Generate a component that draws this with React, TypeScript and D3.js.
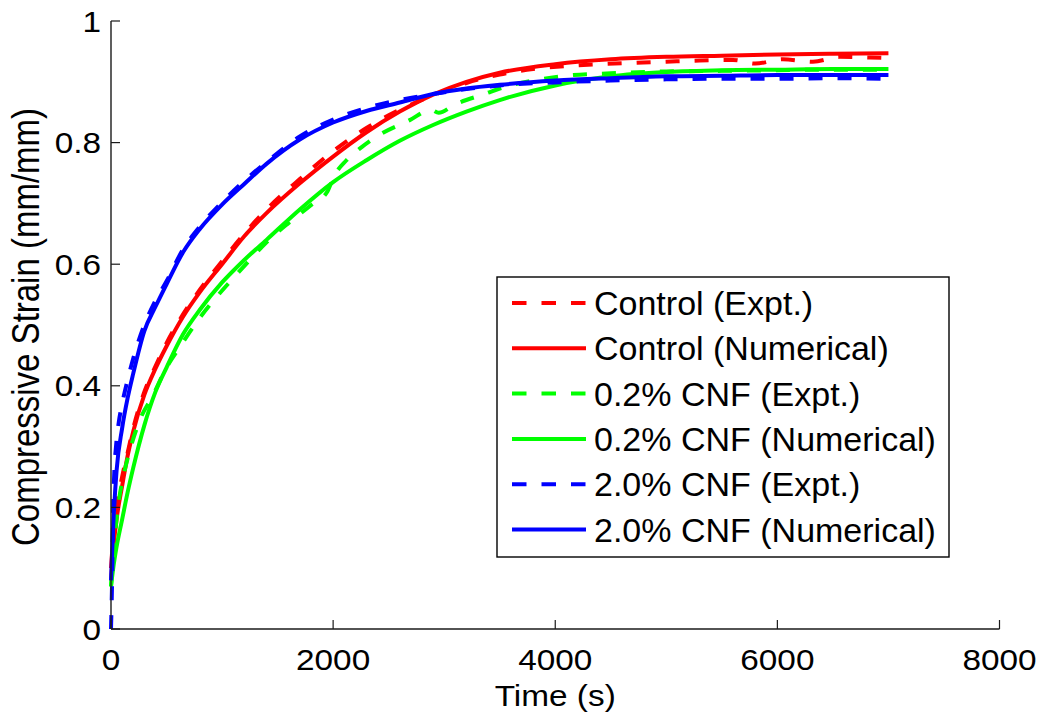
import React from "react";
import * as d3 from "d3";

// Creep strain under compression: experiments vs. numerical model
const xTicks = [0, 2000, 4000, 6000, 8000];
const yTicks = [0, 0.2, 0.4, 0.6, 0.8, 1];
const yTickLabels = ["0", "0.2", "0.4", "0.6", "0.8", "1"];

// Time grid shared by the numerical solutions (s)
const tModel = [0, 20, 50, 100, 150, 200, 300, 400, 500, 650, 800, 1000, 1200, 1400, 1700, 2000, 2300, 2600, 2900, 3200, 3500, 4000, 4500, 5000, 5500, 6000, 6500, 7000];
const controlModel = [0.08, 0.13, 0.18, 0.235, 0.285, 0.325, 0.385, 0.428, 0.465, 0.514, 0.554, 0.6, 0.646, 0.684, 0.733, 0.777, 0.817, 0.851, 0.879, 0.9, 0.915, 0.929, 0.937, 0.941, 0.943, 0.945, 0.946, 0.947];
const cnf02Model = [0.07, 0.1, 0.135, 0.18, 0.225, 0.265, 0.335, 0.39, 0.43, 0.485, 0.525, 0.57, 0.607, 0.64, 0.69, 0.735, 0.771, 0.803, 0.829, 0.851, 0.87, 0.894, 0.909, 0.916, 0.919, 0.92, 0.921, 0.921];
const cnf20Model = [0.08, 0.17, 0.26, 0.33, 0.38, 0.42, 0.49, 0.53, 0.567, 0.62, 0.658, 0.698, 0.732, 0.765, 0.805, 0.833, 0.852, 0.866, 0.88, 0.889, 0.895, 0.902, 0.906, 0.909, 0.91, 0.911, 0.911, 0.911];

// Experimental records
const tControlExpt = [0, 20, 50, 100, 150, 200, 300, 400, 500, 650, 800, 1000, 1200, 1400, 1700, 2000, 2300, 2600, 2900, 3200, 3500, 3800, 4100, 4400, 4700, 5000, 5300, 5600, 5800, 6050, 6320, 6560, 6830, 7000];
const controlExpt = [0.1, 0.15, 0.2, 0.25, 0.29, 0.33, 0.39, 0.432, 0.47, 0.518, 0.558, 0.605, 0.65, 0.69, 0.74, 0.786, 0.824, 0.854, 0.878, 0.898, 0.912, 0.921, 0.926, 0.929, 0.931, 0.933, 0.935, 0.936, 0.93, 0.937, 0.933, 0.941, 0.94, 0.939];

const tCnf02Expt = [0, 20, 50, 70, 110, 170, 260, 380, 500, 620, 800, 1100, 1250, 1400, 1600, 1800, 1950, 2000, 2120, 2260, 2420, 2690, 2880, 2950, 3100, 3380, 3500, 3800, 4100, 4500, 5000, 5500, 6000, 6500, 7000];
const cnf02Expt = [0.07, 0.12, 0.18, 0.21, 0.25, 0.294, 0.344, 0.385, 0.43, 0.464, 0.512, 0.577, 0.607, 0.636, 0.668, 0.697, 0.72, 0.742, 0.771, 0.793, 0.813, 0.837, 0.854, 0.849, 0.863, 0.881, 0.889, 0.902, 0.91, 0.914, 0.917, 0.918, 0.919, 0.92, 0.92];

const tCnf20Expt = [0, 10, 20, 30, 45, 70, 100, 150, 200, 300, 400, 500, 650, 800, 1000, 1200, 1400, 1700, 2000, 2300, 2600, 2900, 3200, 3500, 4000, 4500, 5000, 5500, 6000, 6500, 7000];
const cnf20Expt = [0, 0.08, 0.2, 0.26, 0.3, 0.34, 0.37, 0.41, 0.445, 0.5, 0.54, 0.572, 0.625, 0.662, 0.702, 0.737, 0.768, 0.81, 0.838, 0.857, 0.87, 0.88, 0.888, 0.894, 0.899, 0.902, 0.904, 0.905, 0.905, 0.906, 0.905];

const seriesNames = [
  "Control (Expt.)",
  "Control (Numerical)",
  "0.2% CNF (Expt.)",
  "0.2% CNF (Numerical)",
  "2.0% CNF (Expt.)",
  "2.0% CNF (Numerical)",
];

const RED = "#ff0000";
const GREEN = "#00ff00";
const BLUE = "#0000ff";

const series = [
  { name: seriesNames[0], t: tControlExpt, v: controlExpt, color: RED, dashed: true },
  { name: seriesNames[1], t: tModel, v: controlModel, color: RED, dashed: false },
  { name: seriesNames[2], t: tCnf02Expt, v: cnf02Expt, color: GREEN, dashed: true },
  { name: seriesNames[3], t: tModel, v: cnf02Model, color: GREEN, dashed: false },
  { name: seriesNames[4], t: tCnf20Expt, v: cnf20Expt, color: BLUE, dashed: true },
  { name: seriesNames[5], t: tModel, v: cnf20Model, color: BLUE, dashed: false },
];

const left = 111;
const right = 999.5;
const top = 21;
const bottom = 629;

const x = d3.scaleLinear().domain([0, 8000]).range([left, right]);
const y = d3.scaleLinear().domain([0, 1]).range([bottom, top]);

const line = d3
  .line<[number, number]>()
  .x((d) => x(d[0]))
  .y((d) => y(d[1]))
  .curve(d3.curveMonotoneX);

const FONT = "'Liberation Sans', Arial, Helvetica, sans-serif";
const DASH = "14,15";

export default function App() {
  const legend = { x0: 497, y0: 277, x1: 949, y1: 557, firstRow: 303, rowStep: 45.3 };
  return (
    <svg
      width={1042}
      height={715}
      style={{ position: "absolute", left: 0, top: 0, background: "#fff" }}
      fontFamily={FONT}
    >
      <rect x={0} y={0} width={1042} height={715} fill="#fff" />

      {/* data */}
      {series.map((s) => (
        <path
          key={s.name}
          d={line(s.t.map((t, i) => [t, s.v[i]] as [number, number])) || ""}
          fill="none"
          stroke={s.color}
          strokeWidth={4}
          strokeDasharray={s.dashed ? DASH : undefined}
          strokeLinejoin="round"
        />
      ))}

      {/* axes */}
      <line x1={left} x2={left} y1={top} y2={bottom} stroke="#1a1a1a" strokeWidth={1.4} />
      <line x1={left} x2={right} y1={bottom} y2={bottom} stroke="#1a1a1a" strokeWidth={1.4} />
      {yTicks.map((v, i) => (
        <g key={"y" + v}>
          <line x1={left} x2={left + 9} y1={y(v)} y2={y(v)} stroke="#1a1a1a" strokeWidth={1.2} />
          <text
            transform={`translate(${left - 10},${y(v) + 10.5}) scale(1.15,1)`}
            textAnchor="end"
            fontSize={29}
            fill="#000"
          >
            {yTickLabels[i]}
          </text>
        </g>
      ))}
      {xTicks.map((v) => (
        <g key={"x" + v}>
          <line x1={x(v)} x2={x(v)} y1={bottom} y2={bottom - 9} stroke="#1a1a1a" strokeWidth={1.2} />
          <text
            transform={`translate(${x(v)},${670}) scale(1.15,1)`}
            textAnchor="middle"
            fontSize={29}
            fill="#000"
          >
            {v}
          </text>
        </g>
      ))}
      <text
        transform={`translate(${(left + right) / 2},706) scale(1.15,1)`}
        textAnchor="middle"
        fontSize={29}
        fill="#000"
      >
        Time (s)
      </text>
      <text
        transform={`translate(39,${(top + bottom) / 2 + 2}) scale(1.15,1) rotate(-90)`}
        textAnchor="middle"
        fontSize={33}
        fill="#000"
      >
        Compressive Strain (mm/mm)
      </text>

      {/* legend */}
      <rect
        x={legend.x0}
        y={legend.y0}
        width={legend.x1 - legend.x0}
        height={legend.y1 - legend.y0}
        fill="#fff"
        stroke="#000"
        strokeWidth={1.4}
      />
      {series.map((s, i) => {
        const cy = legend.firstRow + i * legend.rowStep;
        return (
          <g key={"lg" + s.name}>
            <line
              x1={512}
              x2={586}
              y1={cy}
              y2={cy}
              stroke={s.color}
              strokeWidth={4}
              strokeDasharray={s.dashed ? "14.5,15" : undefined}
            />
            <text x={594} y={cy + 12} fontSize={34} fill="#000">
              {s.name}
            </text>
          </g>
        );
      })}
    </svg>
  );
}
